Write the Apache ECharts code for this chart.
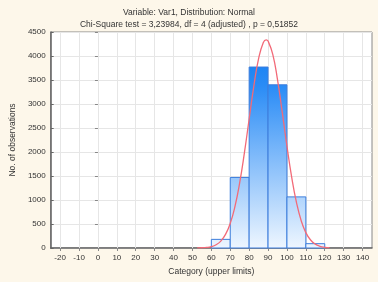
<!DOCTYPE html>
<html>
<head>
<meta charset="utf-8">
<script src="https://cdn.jsdelivr.net/npm/echarts@6/dist/echarts.min.js"></script>
<style>
  html, body { margin: 0; padding: 0; background: #fdf7ea; }
  #main { width: 378px; height: 282px; }
</style>
</head>
<body>
<div id="main"></div>
<script>
// histogram bins (upper limits) and counts
var upperLimits = [70, 80, 90, 100, 110, 120];
var binWidth = 10;
var counts = [180, 1470, 3770, 3400, 1065, 90];

// fitted normal curve
var curveX = [52.5, 55, 57.5, 60, 62.5, 65, 67.5, 70, 72.5, 75, 77.5, 80, 82.5, 85, 87.5, 89, 90, 92.5, 95, 97.5, 100, 102.5, 105, 107.5, 110, 112.5, 115, 117.5, 120, 122.5];
var curveY = [2, 5, 12, 30, 69, 144, 283, 514, 868, 1362, 1985, 2688, 3379, 3946, 4280, 4337, 4311, 4034, 3506, 2830, 2122, 1478, 956, 574, 320, 166, 80, 36, 15, 6];

// axis ticks
var xTicks = [-20, -10, 0, 10, 20, 30, 40, 50, 60, 70, 80, 90, 100, 110, 120, 130, 140];

var chart = echarts.init(document.getElementById('main'));

var font = '"Liberation Sans", Arial, sans-serif';

var barData = [];
for (var i = 0; i < counts.length; i++) {
    barData.push([upperLimits[i] - binWidth, upperLimits[i], counts[i]]);
}
var lineData = [];
for (var j = 0; j < curveX.length; j++) {
    lineData.push([curveX[j], curveY[j]]);
}
// vertical grid lines at the x ticks
var gridLines = [];
for (var k = 0; k < xTicks.length; k++) {
    gridLines.push({ xAxis: xTicks[k] });
}

var option = {
    backgroundColor: '#fdf7ea',
    animation: false,
    title: [{
        text: 'Variable: Var1, Distribution: Normal',
        left: 'center',
        top: 3,
        textStyle: { fontFamily: font, fontSize: 8.5, fontWeight: 'normal', color: '#333' }
    }, {
        text: 'Chi-Square test = 3,23984, df = 4 (adjusted) , p = 0,51852',
        left: 'center',
        top: 15,
        textStyle: { fontFamily: font, fontSize: 8.5, fontWeight: 'normal', color: '#333' }
    }],
    grid: {
        left: 40, right: 6, top: 32, bottom: 34,
        show: true,
        backgroundColor: '#fff',
        borderColor: '#888',
        borderWidth: 1
    },
    xAxis: [{
        type: 'value',
        min: -25,
        max: 145,
        name: 'Category (upper limits)',
        nameLocation: 'middle',
        nameGap: 19,
        nameTextStyle: { fontFamily: font, fontSize: 8.5, color: '#333' },
        axisLine: { onZero: false, lineStyle: { color: '#666', width: 1.5 } },
        axisTick: { inside: true, length: 3, customValues: xTicks, lineStyle: { color: '#666' } },
        axisLabel: { customValues: xTicks, fontFamily: font, fontSize: 8, color: '#333', margin: 6 },
        splitLine: { show: false }
    }, {
        type: 'value',
        position: 'top',
        min: -25,
        max: 145,
        axisLine: { show: false },
        axisTick: { inside: true, length: 3, customValues: xTicks, lineStyle: { color: '#888' } },
        axisLabel: { show: false },
        splitLine: { show: false }
    }],
    yAxis: [{
        type: 'value',
        min: 0,
        max: 4500,
        interval: 500,
        name: 'No. of observations',
        nameLocation: 'middle',
        nameGap: 28,
        nameTextStyle: { fontFamily: font, fontSize: 8.5, color: '#333' },
        axisLine: { show: true, onZero: false, lineStyle: { color: '#666', width: 1.5 } },
        axisTick: { show: true, inside: true, length: 3, lineStyle: { color: '#666' } },
        axisLabel: {
            fontFamily: font, fontSize: 8, color: '#333', margin: 5,
            formatter: function (v) { return String(v); }
        },
        splitLine: { show: true, lineStyle: { color: '#e6e6e6' } }
    }, {
        type: 'value',
        position: 'right',
        min: 0,
        max: 4500,
        interval: 500,
        axisLine: { show: false },
        axisTick: { show: true, inside: true, length: 3, lineStyle: { color: '#888' } },
        axisLabel: { show: false },
        splitLine: { show: false }
    }],
    series: [{
        type: 'line',
        data: [],
        silent: true,
        z: 1,
        markLine: {
            silent: true,
            z: 1,
            symbol: 'none',
            label: { show: false },
            lineStyle: { color: '#e6e6e6', type: 'solid', width: 1 },
            data: gridLines,
            animation: false
        }
    }, {
        type: 'custom',
        renderItem: function (params, api) {
            var p0 = api.coord([api.value(0), api.value(2)]);
            var p1 = api.coord([api.value(1), 0]);
            var top = api.coord([0, 4500])[1];
            return {
                type: 'rect',
                shape: { x: p0[0], y: p0[1], width: p1[0] - p0[0], height: p1[1] - p0[1] },
                style: {
                    fill: new echarts.graphic.LinearGradient(0, top, 0, p1[1], [
                        { offset: 0, color: '#0a78f0' },
                        { offset: 0.25, color: '#2a8cf6' },
                        { offset: 1, color: '#eef6ff' }
                    ], true),
                    stroke: '#3c7ddc',
                    lineWidth: 1
                }
            };
        },
        encode: { x: [0, 1], y: 2 },
        data: barData,
        z: 3
    }, {
        type: 'line',
        data: lineData,
        smooth: true,
        showSymbol: false,
        lineStyle: { color: '#f26a78', width: 1.3 },
        z: 4
    }]
};
chart.setOption(option);
</script>
</body>
</html>
